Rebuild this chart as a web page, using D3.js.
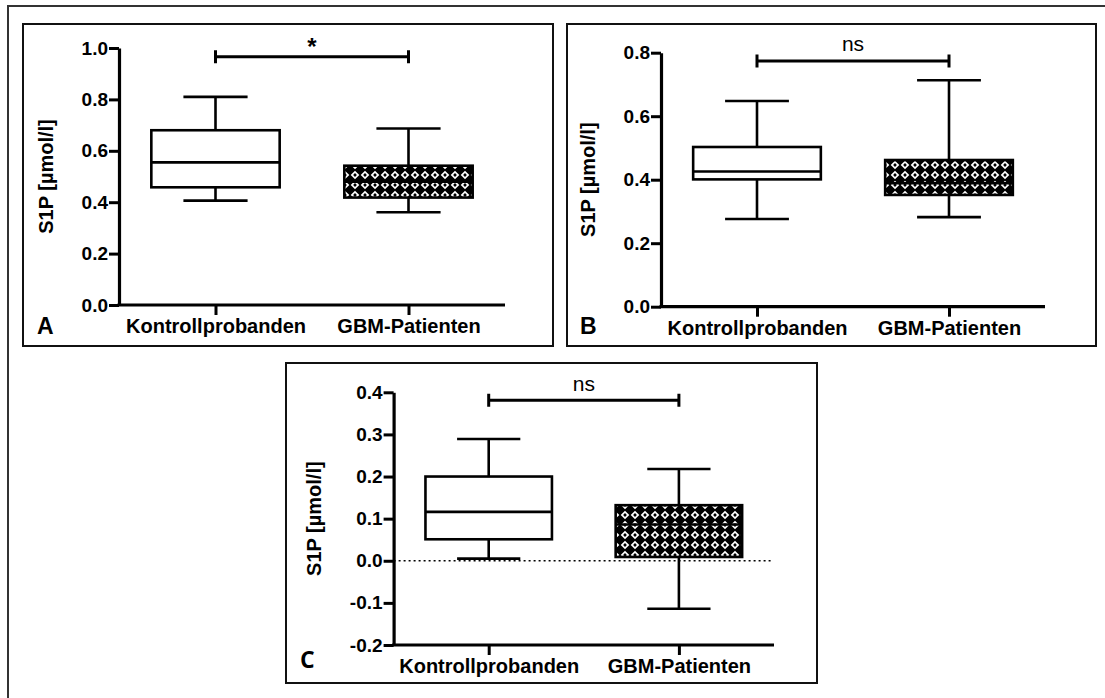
<!DOCTYPE html>
<html>
<head>
<meta charset="utf-8">
<script src="https://cdn.jsdelivr.net/npm/d3@7"></script>
<style>
    body { margin: 0; background: #fff; }
    svg { display: block; font-family: "Liberation Sans", Arial, sans-serif; }
</style>
</head>
<body>
<script>
// categories and values
var categories = ["Kontrollprobanden", "GBM-Patienten"];
var yLabel = "S1P [\u00b5mol/l]";

// box stats: [lower whisker, Q1, median, Q3, upper whisker]
var boxesA = [[0.406, 0.458, 0.555, 0.680, 0.810], [0.361, 0.418, 0.480, 0.542, 0.687]];
var boxesB = [[0.276, 0.401, 0.426, 0.503, 0.648], [0.282, 0.352, 0.389, 0.462, 0.713]];
var boxesC = [[0.005, 0.051, 0.116, 0.200, 0.289], [-0.114, 0.009, 0.086, 0.132, 0.218]];

var ticksA = [0.0, 0.2, 0.4, 0.6, 0.8, 1.0];
var ticksB = [0.0, 0.2, 0.4, 0.6, 0.8];
var ticksC = [-0.2, -0.1, 0.0, 0.1, 0.2, 0.3, 0.4];

var sigLabels = ["*", "ns", "ns"];
var sigLevels = [0.966, 0.774, 0.381];
var panelLetters = ["A", "B", "C"];

var width = 1105, height = 698;

var svg = d3.select("body").append("svg")
    .attr("width", width)
    .attr("height", height);

svg.append("rect")
    .attr("width", width)
    .attr("height", height)
    .attr("fill", "#fff");

// hatch pattern used by the GBM boxes
var defs = svg.append("defs");
var pat = defs.append("pattern")
    .attr("id", "diamonds")
    .attr("patternUnits", "userSpaceOnUse")
    .attr("width", 10)
    .attr("height", 10);
pat.append("rect").attr("width", 10).attr("height", 10).attr("fill", "#000");
pat.append("path").attr("d", "M5,0.7L9.3,5L5,9.3L0.7,5Z").attr("fill", "#fff");
pat.append("path").attr("d", "M5,3.1L6.9,5L5,6.9L3.1,5Z").attr("fill", "#000");

// outer frame (runs off the page on the right and bottom)
svg.append("rect")
    .attr("x", 8)
    .attr("y", 6)
    .attr("width", 1200)
    .attr("height", 800)
    .attr("fill", "none")
    .attr("stroke", "#333")
    .attr("stroke-width", 2);

var panels = [
    { boxes: boxesA, ticks: ticksA, domain: [0, 1.0], frame: [23, 24, 553, 346],
      x0: 119, x1: 505, yBottom: 305, yTop: 48, titleOff: 73, letterX: 37, letterY: 334, letterFont: "Liberation Sans" },
    { boxes: boxesB, ticks: ticksB, domain: [0, 0.8], frame: [567, 24, 1096, 346],
      x0: 661, x1: 1045, yBottom: 306.7, yTop: 52.7, titleOff: 73, letterX: 580, letterY: 334, letterFont: "Liberation Sans" },
    { boxes: boxesC, ticks: ticksC, domain: [-0.2, 0.4], frame: [286, 363, 817, 683],
      x0: 393.6, x1: 774, yBottom: 645, yTop: 392.3, titleOff: 80, letterX: 300, letterY: 668, letterFont: "Open Sans" }
];

var fmt = function (d) {
    return d3.format(".1f")(d).replace("\u2212", "-");
};

panels.forEach(function (p, i) {
    var g = svg.append("g");

    g.append("rect")
        .attr("x", p.frame[0])
        .attr("y", p.frame[1])
        .attr("width", p.frame[2] - p.frame[0])
        .attr("height", p.frame[3] - p.frame[1])
        .attr("fill", "none")
        .attr("stroke", "#111")
        .attr("stroke-width", 2);

    var x = d3.scalePoint()
        .domain(categories)
        .range([p.x0, p.x1])
        .padding(0.5);

    var y = d3.scaleLinear()
        .domain(p.domain)
        .range([p.yBottom, p.yTop]);

    var boxW = x.step() * 0.665;
    var capW = boxW * 0.5;

    // zero reference line (only when the axis goes below zero)
    if (p.domain[0] < 0) {
        g.append("line")
            .attr("x1", p.x0)
            .attr("x2", p.x1 - 2)
            .attr("y1", y(0))
            .attr("y2", y(0))
            .attr("stroke", "#000")
            .attr("stroke-width", 1.6)
            .attr("stroke-dasharray", "2,3");
    }

    // y axis
    var yAxis = d3.axisLeft(y)
        .tickValues(p.ticks)
        .tickFormat(fmt)
        .tickSize(10)
        .tickSizeOuter(0)
        .tickPadding(1);

    var ya = g.append("g")
        .attr("transform", "translate(" + p.x0 + ",0)")
        .call(yAxis);
    ya.select(".domain").attr("stroke-width", 3.2);
    ya.selectAll(".tick line").attr("stroke-width", 3);
    ya.selectAll(".tick text")
        .attr("fill", "#000")
        .style("font-size", "19px")
        .style("font-weight", "bold");

    // x axis
    var xAxis = d3.axisBottom(x)
        .tickSize(10)
        .tickSizeOuter(0)
        .tickPadding(4);

    var xa = g.append("g")
        .attr("transform", "translate(0," + p.yBottom + ")")
        .call(xAxis);
    xa.select(".domain")
        .attr("d", "M" + (p.x0 - 1.5) + ",0H" + p.x1)
        .attr("stroke-width", 3.2);
    xa.selectAll(".tick line").attr("stroke-width", 3);
    xa.selectAll(".tick text")
        .attr("fill", "#000")
        .style("font-size", "20px")
        .style("font-weight", "bold");

    // y axis title
    g.append("text")
        .attr("transform", "translate(" + (p.x0 - p.titleOff) + "," + ((p.yTop + p.yBottom) / 2) + ") rotate(-90)")
        .attr("text-anchor", "middle")
        .attr("dy", "0.36em")
        .style("font-size", "20px")
        .style("font-weight", "bold")
        .text(yLabel);

    // whiskers
    var bx = g.selectAll(".box")
        .data(p.boxes)
        .enter().append("g")
        .attr("class", "box");

    bx.append("line")
        .attr("x1", function (d, j) { return x(categories[j]); })
        .attr("x2", function (d, j) { return x(categories[j]); })
        .attr("y1", function (d) { return y(d[0]); })
        .attr("y2", function (d) { return y(d[4]); })
        .attr("stroke", "#000")
        .attr("stroke-width", 2.6);

    [0, 4].forEach(function (k) {
        bx.append("line")
            .attr("x1", function (d, j) { return x(categories[j]) - capW / 2; })
            .attr("x2", function (d, j) { return x(categories[j]) + capW / 2; })
            .attr("y1", function (d) { return y(d[k]); })
            .attr("y2", function (d) { return y(d[k]); })
            .attr("stroke", "#000")
            .attr("stroke-width", 2.6);
    });

    bx.append("rect")
        .attr("x", function (d, j) { return x(categories[j]) - boxW / 2; })
        .attr("y", function (d) { return y(d[3]); })
        .attr("width", boxW)
        .attr("height", function (d) { return y(d[1]) - y(d[3]); })
        .attr("fill", function (d, j) { return j === 0 ? "#fff" : "url(#diamonds)"; })
        .attr("stroke", "#000")
        .attr("stroke-width", 2.6);

    bx.append("line")
        .attr("x1", function (d, j) { return x(categories[j]) - boxW / 2; })
        .attr("x2", function (d, j) { return x(categories[j]) + boxW / 2; })
        .attr("y1", function (d) { return y(d[2]); })
        .attr("y2", function (d) { return y(d[2]); })
        .attr("stroke", "#000")
        .attr("stroke-width", 2.6);

    // significance bracket
    var sy = y(sigLevels[i]);
    var sx1 = x(categories[0]), sx2 = x(categories[1]);
    g.append("path")
        .attr("d", "M" + sx1 + "," + (sy - 6.5) + "V" + (sy + 6.5) +
            "M" + sx1 + "," + sy + "H" + sx2 +
            "M" + sx2 + "," + (sy - 6.5) + "V" + (sy + 6.5))
        .attr("fill", "none")
        .attr("stroke", "#000")
        .attr("stroke-width", 3);

    var star = sigLabels[i] === "*";
    g.append("text")
        .attr("x", (sx1 + sx2) / 2)
        .attr("y", sy - (star ? 2 : 9.5))
        .attr("text-anchor", "middle")
        .style("font-size", star ? "24px" : "21px")
        .style("font-weight", star ? "bold" : "normal")
        .text(sigLabels[i]);

    // panel letter
    g.append("text")
        .attr("x", p.letterX)
        .attr("y", p.letterY)
        .style("font-family", p.letterFont)
        .style("font-size", "23px")
        .style("font-weight", "bold")
        .text(panelLetters[i]);
});
</script>
</body>
</html>
